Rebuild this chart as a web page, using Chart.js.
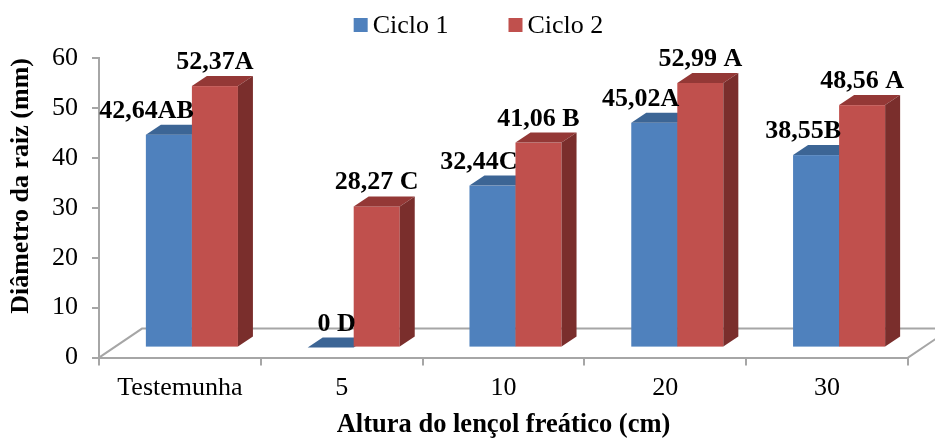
<!DOCTYPE html>
<html>
<head>
<meta charset="utf-8">
<script src="https://cdn.jsdelivr.net/npm/chart.js@4.4.1/dist/chart.umd.min.js"></script>
<style>
  html, body { margin: 0; padding: 0; background: #ffffff; }
  canvas { display: block; }
</style>
</head>
<body>
<canvas id="chart" width="935" height="441"></canvas>
<script>
// Root diameter by water-table height, two growing cycles
const categories = ['Testemunha', '5', '10', '20', '30'];
const seriesNames = ['Ciclo 1', 'Ciclo 2'];
const ciclo1 = [42.64, 0, 32.44, 45.02, 38.55];
const ciclo2 = [52.37, 28.27, 41.06, 52.99, 48.56];
// Letters of the mean-comparison test shown after each value
const ciclo1Letters = ['AB', ' D', 'C', 'A', 'B'];
const ciclo2Letters = ['A', ' C', ' B', ' A', ' A'];
const yMin = 0, yMax = 60, yStep = 10;

const FONT = "'Liberation Serif', 'Times New Roman', serif";
const AXIS_GRAY = '#a6a6a6';

// Face colours of the 3-D columns: front, top, right side
const faces = [
  { front: '#4f81bd', top: '#3c6595', side: '#345a86' },
  { front: '#c0504d', top: '#943836', side: '#7a2e2c' }
];

// Depth geometry of the floor and columns
const FLOOR_DX = 43, FLOOR_DY = -29;   // full floor depth
const BAR_SX = 12, BAR_SY = -10;       // column front face offset from the axis plane
const BAR_DX = 15, BAR_DY = -10;       // column depth

function fmtValue(v) {
  return v === 0 ? '0' : v.toFixed(2).replace('.', ',');
}

const bars3d = {
  id: 'bars3d',
  beforeDatasetsDraw(chart) {
    const { ctx, chartArea: a } = chart;
    ctx.save();
    // floor outline (front edge is the category axis line)
    ctx.strokeStyle = AXIS_GRAY;
    ctx.lineWidth = 2;
    ctx.beginPath();
    ctx.moveTo(a.left, a.bottom);
    ctx.lineTo(a.left + FLOOR_DX, a.bottom + FLOOR_DY);
    ctx.lineTo(a.right + FLOOR_DX, a.bottom + FLOOR_DY);
    ctx.moveTo(a.right, a.bottom);
    ctx.lineTo(a.right + FLOOR_DX, a.bottom + FLOOR_DY);
    ctx.stroke();

    const n = chart.data.labels.length;
    for (let i = 0; i < n; i++) {
      chart.data.datasets.forEach((ds, d) => {
        const el = chart.getDatasetMeta(d).data[i];
        const { x, y, base, width } = el.getProps(['x', 'y', 'base', 'width'], true);
        const l = x - width / 2 + BAR_SX, r = x + width / 2 + BAR_SX;
        const t = y + BAR_SY, b = base + BAR_SY;
        const f = faces[d];
        // front
        ctx.fillStyle = f.front;
        ctx.fillRect(l, t, r - l, b - t);
        // top
        ctx.fillStyle = f.top;
        ctx.beginPath();
        ctx.moveTo(l, t);
        ctx.lineTo(r, t);
        ctx.lineTo(r + BAR_DX, t + BAR_DY);
        ctx.lineTo(l + BAR_DX, t + BAR_DY);
        ctx.closePath();
        ctx.fill();
        // right side
        ctx.fillStyle = f.side;
        ctx.beginPath();
        ctx.moveTo(r, t);
        ctx.lineTo(r + BAR_DX, t + BAR_DY);
        ctx.lineTo(r + BAR_DX, b + BAR_DY);
        ctx.lineTo(r, b);
        ctx.closePath();
        ctx.fill();
      });
    }
    ctx.restore();
    return false;
  },
  afterDraw(chart) {
    const { ctx } = chart;
    ctx.save();
    // value labels
    ctx.fillStyle = '#000000';
    ctx.font = `bold 26px ${FONT}`;
    ctx.textBaseline = 'alphabetic';
    const letters = [ciclo1Letters, ciclo2Letters];
    chart.data.datasets.forEach((ds, d) => {
      chart.getDatasetMeta(d).data.forEach((el, i) => {
        const { x, y, width } = el.getProps(['x', 'y', 'width'], true);
        const l = x - width / 2 + BAR_SX, r = x + width / 2 + BAR_SX;
        const t = y + BAR_SY;
        const text = fmtValue(ds.data[i]) + letters[d][i];
        if (d === 0) {
          ctx.textAlign = 'right';
          ctx.fillText(text, r + 2, t - 17);
        } else {
          ctx.textAlign = 'center';
          ctx.fillText(text, (l + r) / 2, t - 17);
        }
      });
    });

    // legend
    ctx.font = `26px ${FONT}`;
    ctx.textAlign = 'left';
    ctx.textBaseline = 'middle';
    const box = 14, textGap = 5, itemGap = 60;
    const items = chart.data.datasets.map((ds, d) => ({
      label: ds.label, color: faces[d].front, w: ctx.measureText(ds.label).width
    }));
    const total = items.reduce((s, it) => s + box + textGap + it.w, 0) + itemGap * (items.length - 1);
    let lx = chart.width / 2 + 11 - total / 2;
    const ly = 25;
    items.forEach(it => {
      ctx.fillStyle = it.color;
      ctx.fillRect(lx, ly - box / 2, box, box);
      ctx.fillStyle = '#000000';
      ctx.fillText(it.label, lx + box + textGap, ly + 1);
      lx += box + textGap + it.w + itemGap;
    });
    ctx.restore();
  }
};

new Chart(document.getElementById('chart'), {
  type: 'bar',
  data: {
    labels: categories,
    datasets: [
      { label: seriesNames[0], data: ciclo1, backgroundColor: faces[0].front },
      { label: seriesNames[1], data: ciclo2, backgroundColor: faces[1].front }
    ]
  },
  options: {
    responsive: false,
    devicePixelRatio: 1,
    animation: false,
    layout: { padding: { left: 0, right: 27, top: 58, bottom: 0 } },
    plugins: {
      legend: { display: false },
      tooltip: { enabled: false }
    },
    datasets: {
      bar: { categoryPercentage: 0.569, barPercentage: 1.0 }
    },
    scales: {
      x: {
        offset: true,
        grid: {
          offset: true, drawOnChartArea: false, drawTicks: true,
          tickLength: 8, color: AXIS_GRAY, lineWidth: 2
        },
        border: { display: true, color: AXIS_GRAY, width: 2 },
        ticks: {
          font: { family: FONT, size: 26 }, color: '#000000',
          padding: 7, maxRotation: 0, autoSkip: false
        },
        title: {
          display: true, text: 'Altura do lençol freático (cm)',
          font: { family: FONT, size: 26.5, weight: 'bold' }, color: '#000000',
          padding: { top: 0, bottom: 0 }
        },
        afterFit(scale) { scale.height = 83.4; }
      },
      y: {
        min: yMin, max: yMax,
        ticks: {
          stepSize: yStep, font: { family: FONT, size: 26 }, color: '#000000', padding: 14
        },
        grid: {
          drawOnChartArea: false, drawTicks: true, tickLength: 7,
          color: AXIS_GRAY, lineWidth: 2
        },
        border: { display: true, color: AXIS_GRAY, width: 2 },
        title: {
          display: true, text: 'Diâmetro da raiz (mm)', align: 'end',
          font: { family: FONT, size: 26, weight: 'bold' }, color: '#000000',
          padding: { top: 6, bottom: 0 }
        },
        afterFit(scale) { scale.width = 99; }
      }
    }
  },
  plugins: [bars3d]
});
</script>
</body>
</html>
